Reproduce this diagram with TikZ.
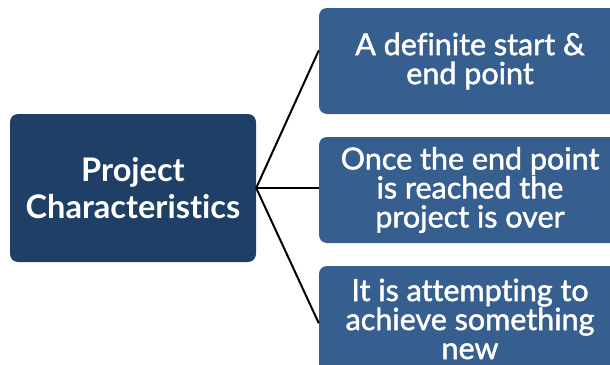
\documentclass[tikz,border=0pt]{standalone}
\usepackage{fontspec}
\setmainfont{Lato}[Ligatures=NoCommon]
\newfontfamily\itemfont{Lato}[Ligatures=NoCommon, FakeBold=1.5]
\usetikzlibrary{positioning,calc}
\definecolor{titleblue}{RGB}{31,63,103}
\definecolor{itemblue}{RGB}{54,95,143}
\tikzset{title/.style={shape=rectangle, rounded corners=8pt, fill=titleblue,
    text=white, align=center, minimum width=246pt, minimum height=148pt,
    font=\fontsize{32.5}{37}\selectfont\bfseries}}
\tikzset{item/.style={shape=rectangle, rounded corners=8pt, fill=itemblue,
    text=white, align=center, minimum width=302pt, minimum height=106pt,
    font=\fontsize{30.5}{29}\selectfont\itemfont}}
\tikzset{branch/.style={draw=black, line width=2pt}}

\begin{document}
\begin{tikzpicture}[x=1pt, y=-1pt]
    \useasboundingbox (0,0) rectangle (610,364);
    \node[title] (proj) at (133,188) {Project\\Characteristics};
    \node[item] (start) at (470,61) {A definite start \&\\end point};
    \node[item] (over) at (470,190) {Once the end point\\is reached the\\project is over};
    \node[item] (new) at (470,319) {It is attempting to\\achieve something\\new};
    \draw[branch] (proj.east) -- ($(start.north west)!0.4!(start.south west)$);
    \draw[branch] (proj.east) -- (proj.east -| over.west);
    \draw[branch] (proj.east) -- ($(new.north west)!0.54!(new.south west)$);
  \end{tikzpicture}
\end{document}
